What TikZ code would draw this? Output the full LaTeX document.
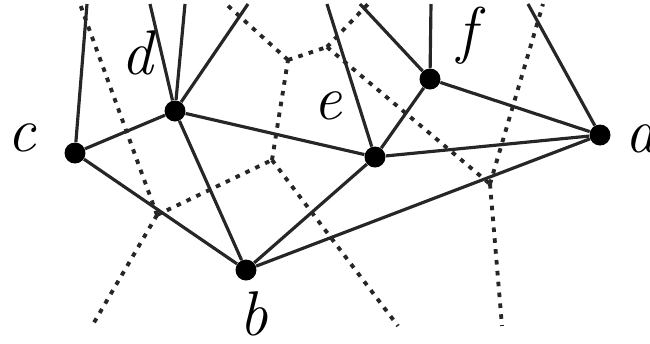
\documentclass[tikz,border=0pt]{standalone}
\usetikzlibrary{positioning}

\begin{document}
\begin{tikzpicture}[
  x=0.02cm, y=-0.02cm,
  sitenode/.style={circle, fill=black, inner sep=0pt, minimum size=0.42cm},
  sitelabel/.style={font=\fontsize{36}{40}\selectfont\itshape, inner sep=0pt},
  delaunay/.style={line width=1.8pt, black!85},
  voronoi/.style={line width=2.2pt, black!85, dash pattern=on 2.6pt off 3.6pt},
]
\useasboundingbox (0,0) rectangle (650,343);

%% ── Sites ────────────────────────────────────────────────────────────────────
\node[sitenode] (a) at (600,135) {};
\node[sitenode] (b) at (246,270) {};
\node[sitenode] (c) at (75,153)  {};
\node[sitenode] (d) at (175,111) {};
\node[sitenode] (e) at (375,157) {};
\node[sitenode] (f) at (430,79)  {};

%% ── Site labels ──────────────────────────────────────────────────────────────
\node[sitelabel] (la) at (641,139) {a};
\node[sitelabel] (lb) at (254,314) {b};
\node[sitelabel] (lc) at (22,138)  {c};
\node[sitelabel] (ld) at (137,53)  {d};
\node[sitelabel] (le) at (328,106) {e};
\node[sitelabel] (lf) at (467,36)  {f};

%% ── Free ends of open edges ──────────────────────────────────────────────────
\coordinate (tc)  at (87,4);
\coordinate (td1) at (150,4);
\coordinate (td2) at (185,4);
\coordinate (td3) at (248,4);
\coordinate (te)  at (327,4);
\coordinate (tf1) at (360,4);
\coordinate (tf2) at (431,4);
\coordinate (ta)  at (528,4);

%% ── Voronoi vertices ─────────────────────────────────────────────────────────
\coordinate (v1) at (157,215);
\coordinate (v2) at (288,60);
\coordinate (v3) at (327,47);
\coordinate (v4) at (490,184);
\coordinate (v5) at (272,160);
\coordinate (u1) at (80,4);
\coordinate (u2) at (226,4);
\coordinate (u3) at (368,4);
\coordinate (u4) at (543,4);
\coordinate (w1) at (92,326);
\coordinate (w2) at (398,326);
\coordinate (w3) at (502,326);

%% ── Voronoi edges (dashed) ───────────────────────────────────────────────────
\foreach \src/\dst in {v1/v5, v5/v2, v2/v3, v3/v4, v1/u1, v1/w1, v5/w2,
                       v2/u2, v3/u3, v4/u4, v4/w3} {
  \draw[voronoi] (\src) -- (\dst);
}

%% ── Delaunay edges ───────────────────────────────────────────────────────────
\foreach \src/\dst in {c/d, c/b, d/b, d/e, e/b, e/a, e/f, f/a, b/a} {
  \draw[delaunay] (\src) -- (\dst);
}

%% ── Open edges to the top ────────────────────────────────────────────────────
\foreach \src/\dst in {c/tc, d/td1, d/td2, d/td3, e/te, f/tf1, f/tf2, a/ta} {
  \draw[delaunay] (\src) -- (\dst);
}

\end{tikzpicture}
\end{document}
